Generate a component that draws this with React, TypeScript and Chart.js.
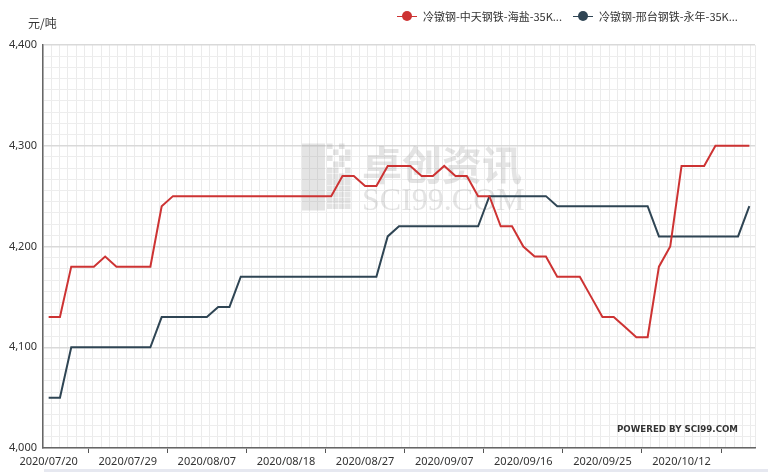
import React, { useEffect, useRef } from "react";
import { Chart, registerables } from "chart.js";

Chart.register(...registerables);

// ---- data ----
const dates: string[] = [
  "2020/07/20", "2020/07/21", "2020/07/22", "2020/07/23", "2020/07/24",
  "2020/07/27", "2020/07/28", "2020/07/29", "2020/07/30", "2020/07/31",
  "2020/08/03", "2020/08/04", "2020/08/05", "2020/08/06", "2020/08/07",
  "2020/08/10", "2020/08/11", "2020/08/12", "2020/08/13", "2020/08/14",
  "2020/08/17", "2020/08/18", "2020/08/19", "2020/08/20", "2020/08/21",
  "2020/08/24", "2020/08/25", "2020/08/26", "2020/08/27", "2020/08/28",
  "2020/08/31", "2020/09/01", "2020/09/02", "2020/09/03", "2020/09/04",
  "2020/09/07", "2020/09/08", "2020/09/09", "2020/09/10", "2020/09/11",
  "2020/09/14", "2020/09/15", "2020/09/16", "2020/09/17", "2020/09/18",
  "2020/09/21", "2020/09/22", "2020/09/23", "2020/09/24", "2020/09/25",
  "2020/09/27", "2020/09/28", "2020/09/29", "2020/09/30", "2020/10/09",
  "2020/10/10", "2020/10/12", "2020/10/13", "2020/10/14", "2020/10/15",
  "2020/10/16", "2020/10/19", "2020/10/20",
];

const zhongtianHaiyan: number[] = [
  4130, 4130, 4180, 4180, 4180, 4190, 4180, 4180, 4180, 4180,
  4240, 4250, 4250, 4250, 4250, 4250, 4250, 4250, 4250, 4250,
  4250, 4250, 4250, 4250, 4250, 4250, 4270, 4270, 4260, 4260,
  4280, 4280, 4280, 4270, 4270, 4280, 4270, 4270, 4250, 4250,
  4220, 4220, 4200, 4190, 4190, 4170, 4170, 4170, 4150, 4130,
  4130, 4120, 4110, 4110, 4180, 4200, 4280, 4280, 4280, 4300,
  4300, 4300, 4300,
];

const xingtaiYongnian: number[] = [
  4050, 4050, 4100, 4100, 4100, 4100, 4100, 4100, 4100, 4100,
  4130, 4130, 4130, 4130, 4130, 4140, 4140, 4170, 4170, 4170,
  4170, 4170, 4170, 4170, 4170, 4170, 4170, 4170, 4170, 4170,
  4210, 4220, 4220, 4220, 4220, 4220, 4220, 4220, 4220, 4250,
  4250, 4250, 4250, 4250, 4250, 4240, 4240, 4240, 4240, 4240,
  4240, 4240, 4240, 4240, 4210, 4210, 4210, 4210, 4210, 4210,
  4210, 4210, 4240,
];

const seriesNames: string[] = ["冷镦钢-中天钢铁-海盐-35K...", "冷镦钢-邢台钢铁-永年-35K..."];
const seriesColors: string[] = ["#cd3333", "#2f4554"];
const yTickValues: number[] = [4000, 4100, 4200, 4300, 4400];
const yMinorPerMajor = 9;
const xLabelEvery = 7;
const xGridCells = 85.5;
const unitLabel = "元/吨";

const FONT = '"Noto Sans", "Noto Sans CJK SC", sans-serif';
const CJK = '"Noto Sans CJK SC", "Noto Sans", sans-serif';

const isMajor = (v: number) => yTickValues.some((t) => Math.abs(t - v) < 1e-6);

const watermarkPlugin = {
  id: "watermark",
  beforeDatasetsDraw(chart: any) {
    const { ctx, chartArea } = chart;
    const cx = (chartArea.left + chartArea.right) / 2;
    const cy = (chartArea.top + chartArea.bottom) / 2;
    ctx.save();
    ctx.fillStyle = "rgba(150,150,150,0.26)";
    const lx = cx - 97;
    const ly = cy - 103;
    ctx.fillRect(lx, ly, 23, 67);
    const s = 6;
    const pattern = [
      "1010", "0101", "1011", "0110", "1101", "1111", "1111", "1111", "1111", "1111", "1111",
    ];
    pattern.forEach((row, r) => {
      for (let c = 0; c < row.length; c++) {
        if (row[c] === "1") ctx.fillRect(lx + 25 + c * s, ly + r * s, s - 0.5, s - 0.5);
      }
    });
    ctx.font = `bold 40px ${CJK}`;
    ctx.textBaseline = "alphabetic";
    ctx.textAlign = "left";
    ctx.fillText("卓创资讯", cx - 37, cy - 67);
    ctx.font = `32px "Liberation Serif", "DejaVu Serif", serif`;
    ctx.fillText("SCI99.COM", cx - 37, cy - 37);
    ctx.restore();
  },
  afterDatasetsDraw(chart: any) {
    const { ctx, chartArea } = chart;
    ctx.save();
    ctx.fillStyle = "#333";
    ctx.font = `bold 9px "DejaVu Sans", sans-serif`;
    ctx.textAlign = "right";
    ctx.textBaseline = "middle";
    ctx.fillText("POWERED BY SCI99.COM", chartArea.right - 17, chartArea.bottom - 18, 121);
    ctx.restore();
  },
};

export default function App() {
  const ref = useRef<HTMLCanvasElement>(null);

  useEffect(() => {
    if (!ref.current) return;
    const chart = new Chart(ref.current, {
      type: "line",
      data: {
        labels: dates,
        datasets: [
          {
            label: seriesNames[0],
            data: zhongtianHaiyan,
            borderColor: seriesColors[0],
            backgroundColor: seriesColors[0],
            borderWidth: 2,
            pointRadius: 0,
            tension: 0,
            xAxisID: "x",
          },
          {
            label: seriesNames[1],
            data: xingtaiYongnian,
            borderColor: seriesColors[1],
            backgroundColor: seriesColors[1],
            borderWidth: 2,
            pointRadius: 0,
            tension: 0,
            xAxisID: "x",
          },
        ],
      },
      options: {
        responsive: false,
        animation: false,
        devicePixelRatio: 1,
        layout: { padding: { top: 45, right: 13, left: 0, bottom: 0 } },
        plugins: {
          legend: { display: false },
          tooltip: { enabled: false },
        },
        scales: {
          xg: {
            type: "linear",
            position: "bottom",
            min: 0,
            max: xGridCells,
            afterBuildTicks: (scale: any) => {
              const t = [];
              for (let i = 0; i <= Math.floor(xGridCells); i++) t.push({ value: i });
              t.push({ value: xGridCells });
              scale.ticks = t;
            },
            ticks: { display: false },
            grid: { color: "#ebebeb", drawTicks: false },
            border: { display: false },
          },
          x: {
            type: "category",
            offset: true,
            afterFit: (scale: any) => {
              scale.height = 24;
            },
            ticks: {
              autoSkip: false,
              maxRotation: 0,
              minRotation: 0,
              padding: 2,
              color: "#333",
              font: { family: FONT, size: 11 },
              callback: (_v: any, i: number) => (i % xLabelEvery === 0 ? dates[i] : ""),
            },
            grid: {
              offset: true,
              drawOnChartArea: false,
              tickLength: 5,
              tickColor: (ctx: any) =>
                ctx.index % xLabelEvery === Math.ceil(xLabelEvery / 2) ? "#555" : "rgba(0,0,0,0)",
            },
            border: { display: true, color: "#666", width: 1.5 },
          },
          y: {
            type: "linear",
            min: yTickValues[0],
            max: yTickValues[yTickValues.length - 1],
            afterFit: (scale: any) => {
              scale.width = 43;
            },
            afterBuildTicks: (scale: any) => {
              const t = [];
              for (let k = 0; k < yTickValues.length - 1; k++) {
                const a = yTickValues[k];
                const b = yTickValues[k + 1];
                for (let m = 0; m < yMinorPerMajor; m++) t.push({ value: a + ((b - a) * m) / yMinorPerMajor });
              }
              t.push({ value: yTickValues[yTickValues.length - 1] });
              scale.ticks = t;
            },
            ticks: {
              autoSkip: false,
              padding: 6,
              color: "#333",
              font: { family: FONT, size: 11 },
              callback: (v: any) => (isMajor(Number(v)) ? Math.round(Number(v)).toLocaleString("en-US") : ""),
            },
            grid: {
              drawTicks: false,
              color: (ctx: any) => (ctx.tick && isMajor(ctx.tick.value) ? "#d9d9d9" : "#ededed"),
              lineWidth: (ctx: any) => (ctx.tick && isMajor(ctx.tick.value) ? 1.5 : 1),
            },
            border: { display: true, color: "#666", width: 1.5 },
          },
        },
      },
      plugins: [watermarkPlugin],
    } as any);
    return () => chart.destroy();
  }, []);

  const legendItem = (name: string, color: string, last: boolean) => (
    <div key={name} style={{ display: "flex", alignItems: "center", marginRight: last ? 0 : 11 }}>
      <span style={{ position: "relative", display: "inline-block", width: 20, height: 10 }}>
        <span style={{ position: "absolute", left: 0, top: 4.5, width: 20, height: 1.5, background: color }} />
        <span
          style={{
            position: "absolute",
            left: 5,
            top: 0,
            width: 10,
            height: 10,
            borderRadius: "50%",
            background: color,
          }}
        />
      </span>
      <span style={{ marginLeft: 6 }}>{name}</span>
    </div>
  );

  return (
    <div style={{ position: "absolute", left: 0, top: 0, width: 768, height: 472, background: "#fff", overflow: "hidden" }}>
      <canvas ref={ref} width={768} height={472} style={{ position: "absolute", left: 0, top: 0, width: 768, height: 472 }} />
      <div
        style={{
          position: "absolute",
          left: 28,
          top: 16,
          fontFamily: CJK,
          fontSize: 12,
          lineHeight: "14px",
          color: "#333",
        }}
      >
        {unitLabel}
      </div>
      <div
        style={{
          position: "absolute",
          left: 397,
          top: 9,
          height: 14,
          display: "flex",
          alignItems: "center",
          whiteSpace: "nowrap",
          fontFamily: CJK,
          fontSize: 11,
          lineHeight: "14px",
          color: "#333",
        }}
      >
        {seriesNames.map((n, i) => legendItem(n, seriesColors[i], i === seriesNames.length - 1))}
      </div>
      <div style={{ position: "absolute", left: 44, top: 469, width: 724, height: 3, background: "#e6e8f0" }} />
    </div>
  );
}
